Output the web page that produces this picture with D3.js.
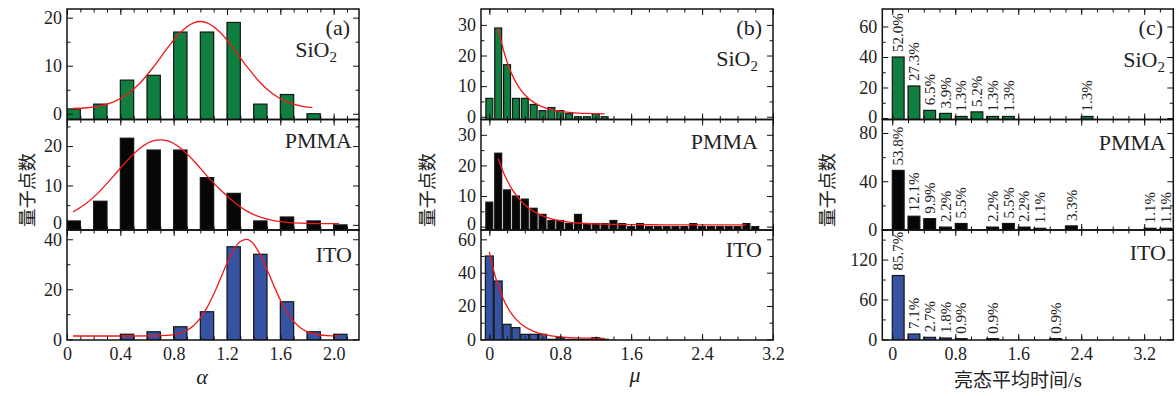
<!DOCTYPE html>
<html><head><meta charset="utf-8">
<script src="https://cdn.jsdelivr.net/npm/d3@7"></script>
<style>body{margin:0;background:#fff} svg{display:block}</style>
</head><body>
<svg id="chart" width="1176" height="396"></svg>
<script>
// ---------------- DATA ----------------
const materials = ["SiO2", "PMMA", "ITO"];

// (a) alpha histograms
const alphaBins = [0, 0.2, 0.4, 0.6, 0.8, 1.0, 1.2, 1.4, 1.6, 1.8, 2.0];
const alphaSiO2 = [1, 2, 7, 8, 17, 17, 19, 2, 4, 0, null];
const alphaPMMA = [1, 6, 22, 19, 19, 12, 8, 1, 2, 1, 0];
const alphaITO  = [null, null, 2, 3, 5, 11, 37, 34, 15, 3, 2];
// (a) fitted curves
const alphaFitSiO2X = [0.045,0.15,0.25,0.35,0.45,0.55,0.65,0.75,0.85,0.95,1.0,1.05,1.15,1.25,1.35,1.45,1.55,1.65,1.75,1.84];
const alphaFitSiO2Y = [1.09,1.25,1.64,2.48,4.01,6.46,9.79,13.55,16.92,18.93,19.2,18.93,16.92,13.55,9.79,6.46,4.01,2.48,1.64,1.27];
const alphaFitPMMAX = [0.045,0.15,0.25,0.35,0.45,0.55,0.65,0.70,0.75,0.85,0.95,1.05,1.15,1.25,1.35,1.45,1.55,1.65,1.75,1.85,1.95,2.04];
const alphaFitPMMAY = [3.27,5.61,8.70,12.44,16.29,19.51,21.36,21.6,21.36,19.51,16.29,12.44,8.9,5.9,3.5,1.95,1.07,0.64,0.44,0.35,0.31,0.30];
const alphaFitITOX = [0.045,0.25,0.45,0.65,0.75,0.80,0.85,0.90,0.95,1.00,1.05,1.10,1.15,1.20,1.25,1.30,1.35,1.40,1.45,1.50,1.55,1.60,1.65,1.70,1.75,1.80,1.85,1.90,1.95,2.04];
const alphaFitITOY = [1.3,1.3,1.3,1.34,1.54,1.85,2.46,3.59,5.50,8.45,12.63,17.98,24.14,30.36,35.68,39.11,39.94,38.02,33.73,27.93,21.62,15.72,10.80,7.13,4.62,3.06,2.17,1.70,1.47,1.33];

// (b) mu histograms
const muBins = [0,0.1,0.2,0.3,0.4,0.5,0.6,0.7,0.8,0.9,1.0,1.1,1.2,1.3,1.4,1.5,1.6,1.7,1.8,1.9,2.0,2.1,2.2,2.3,2.4,2.5,2.6,2.7,2.8,2.9,3.0];
const muSiO2 = [6,29,17,6,6,4,2,3,2,1,0,0,1,0];
const muPMMA = [8,24,12,10,9,6,4,2,2,1,4,1,1,1,2,1,0,1,0,0,0,0,0,1,0,0,0,0,0,1,0];
const muITO  = [50,35,9,7,3,3,3,0,1,0,0,0,1,0];
const muFitSiO2X = [0.10,0.15,0.20,0.25,0.30,0.35,0.40,0.50,0.60,0.70,0.80,0.90,1.00,1.10,1.20,1.30];
const muFitSiO2Y = [29.0,22.78,17.94,14.17,11.24,8.95,7.17,4.70,3.21,2.30,1.75,1.41,1.21,1.09,1.02,0.97];
const muFitPMMAX = [0.10,0.15,0.20,0.25,0.30,0.35,0.40,0.50,0.60,0.70,0.80,0.90,1.00,1.20,1.40,1.60,2.00,2.40,2.90];
const muFitPMMAY = [22.3,18.37,15.15,12.51,10.35,8.58,7.14,4.98,3.54,2.57,1.92,1.49,1.19,0.87,0.72,0.65,0.6,0.6,0.6];
const muFitITOX = [0,0.05,0.10,0.15,0.20,0.25,0.30,0.40,0.50,0.60,0.70,0.80,0.90,1.00,1.10,1.20,1.30];
const muFitITOY = [52.5,41.0,32.0,25.1,19.6,15.4,12.1,7.5,4.8,3.1,2.1,1.45,1.08,0.85,0.71,0.63,0.58];

// (c) bright-state mean time histograms (bin start, count, percentage label)
const timeSiO2 = [0, 0.2, 0.4, 0.6, 0.8, 1.0, 1.2, 1.4, 2.4];
const cntSiO2  = [40, 21, 5, 3, 1, 4, 1, 1, 1];
const pctSiO2  = ["52.0%","27.3%","6.5%","3.9%","1.3%","5.2%","1.3%","1.3%","1.3%"];
const timePMMA = [0, 0.2, 0.4, 0.6, 0.8, 1.2, 1.4, 1.6, 1.8, 2.2, 3.2, 3.4];
const cntPMMA  = [49, 11, 9, 2, 5, 2, 5, 2, 1, 3, 1, 1];
const pctPMMA  = ["53.8%","12.1%","9.9%","2.2%","5.5%","2.2%","5.5%","2.2%","1.1%","3.3%","1.1%","1.1%"];
const timeITO  = [0, 0.2, 0.4, 0.6, 0.8, 1.2, 2.0];
const cntITO   = [96, 8, 3, 2, 1, 1, 1];
const pctITO   = ["85.7%","7.1%","2.7%","1.8%","0.9%","0.9%","0.9%"];

// tick values / labels
const alphaTicks = [0, 0.4, 0.8, 1.2, 1.6, 2.0];
const alphaTickLabels = ["0", "0.4", "0.8", "1.2", "1.6", "2.0"];
const muTicks = [0, 0.8, 1.6, 2.4, 3.2];
const muTickLabels = ["0", "0.8", "1.6", "2.4", "3.2"];
const timeTicks = [0, 0.8, 1.6, 2.4, 3.2];
const timeTickLabels = ["0", "0.8", "1.6", "2.4", "3.2"];

const yTicksA = [[0,10,20],[0,10,20],[0,20,40]];
const yMinorA = [[5,15],[5,15,25],[10,30]];
const yTicksB = [[0,10,20,30],[0,10,20,30],[0,20,40,60]];
const yMinorB = [[5,15,25],[5,15,25],[10,30,50]];
const yTicksC = [[0,20,40,60],[0,40,80],[0,60,120]];
const yMinorC = [[10,30,50],[20,60],[30,90,150]];

// ---------------- LAYOUT / STYLE ----------------
const serif = "'Liberation Serif','Times New Roman',serif";
const cjk = "'Noto Sans CJK SC','Noto Sans CJK JP',sans-serif";
const colors = {SiO2: "#0f7f3f", PMMA: "#060606", ITO: "#3653a3"};
const rowTop = [9, 119.5, 230], rowBot = [119.5, 230, 340];

const panels = [
  { id: "a", xl: 67, xr: 359, xdom: [0, 2.19], xMajor: alphaTicks, xLabels: alphaTickLabels,
    xMinor: d3.range(0, 2.19, 0.1),
    barStart: () => 0, barW: () => 0.1,
    rows: [
      {m: "SiO2", bins: alphaBins, vals: alphaSiO2, ydom: [-1.2, 21.8], yMajor: yTicksA[0], yMinor: yMinorA[0], fx: alphaFitSiO2X, fy: alphaFitSiO2Y, zeroShift: 0},
      {m: "PMMA", bins: alphaBins, vals: alphaPMMA, ydom: [-1.3, 26.75], yMajor: yTicksA[1], yMinor: yMinorA[1], fx: alphaFitPMMAX, fy: alphaFitPMMAY, zeroShift: -2},
      {m: "ITO", bins: alphaBins, vals: alphaITO, ydom: [-0.3, 43.7], yMajor: yTicksA[2], yMinor: yMinorA[2], fx: alphaFitITOX, fy: alphaFitITOY, zeroShift: 0}
    ],
    tag: {x: 350, y: 35}, names: [{x: 337, y: 57}, {x: 352, y: 148}, {x: 352, y: 262}],
    ytitleX: 27.5 },
  { id: "b", xl: 481, xr: 773, xdom: [-0.094, 3.2], xMajor: muTicks, xLabels: muTickLabels,
    xMinor: d3.range(0, 3.21, 0.2),
    barStart: (m) => m === "ITO" ? -0.045 : -0.039, barW: (m) => m === "ITO" ? 0.09 : 0.078,
    rows: [
      {m: "SiO2", bins: muBins, vals: muSiO2, ydom: [-0.9, 35.2], yMajor: yTicksB[0], yMinor: yMinorB[0], fx: muFitSiO2X, fy: muFitSiO2Y, zeroShift: 0},
      {m: "PMMA", bins: muBins, vals: muPMMA, ydom: [-1.1, 35.0], yMajor: yTicksB[1], yMinor: yMinorB[1], fx: muFitPMMAX, fy: muFitPMMAY, zeroShift: -2.5},
      {m: "ITO", bins: muBins, vals: muITO, ydom: [-0.4, 65.6], yMajor: yTicksB[2], yMinor: yMinorB[2], fx: muFitITOX, fy: muFitITOY, zeroShift: 0}
    ],
    tag: {x: 762, y: 35}, names: [{x: 758, y: 66}, {x: 758, y: 149}, {x: 762, y: 257}],
    ytitleX: 428 },
  { id: "c", xl: 882.3, xr: 1173.3, xdom: [-0.127, 3.57], xMajor: timeTicks, xLabels: timeTickLabels,
    xMinor: d3.range(0, 3.57, 0.2),
    barStart: () => 0, barW: () => 0.15,
    rows: [
      {m: "SiO2", bins: timeSiO2, vals: cntSiO2, pct: pctSiO2, ydom: [-1, 71.5], yMajor: yTicksC[0], yMinor: yMinorC[0], zeroShift: -1},
      {m: "PMMA", bins: timePMMA, vals: cntPMMA, pct: pctPMMA, ydom: [-0.4, 91.2], yMajor: yTicksC[1], yMinor: yMinorC[1], zeroShift: 0},
      {m: "ITO", bins: timeITO, vals: cntITO, pct: pctITO, ydom: [-1, 164.5], yMajor: yTicksC[2], yMinor: yMinorC[2], zeroShift: 0}
    ],
    tag: {x: 1163, y: 35}, names: [{x: 1165, y: 67}, {x: 1166, y: 150}, {x: 1166, y: 260}],
    ytitleX: 828 }
];

const svg = d3.select("#chart");
const defs = svg.append("defs");

function styleAxis(g) {
  g.attr("font-family", null).attr("font-size", null);
  g.select(".domain").remove();
  g.selectAll(".tick line").attr("stroke", "#111").attr("stroke-width", 1);
  g.selectAll(".tick text").attr("fill", "#222").attr("font-family", serif).attr("font-size", 18);
}

panels.forEach((P, pi) => {
  const x = d3.scaleLinear().domain(P.xdom).range([P.xl, P.xr]);
  P.rows.forEach((R, ri) => {
    const top = rowTop[ri], bot = rowBot[ri];
    const y = d3.scaleLinear().domain(R.ydom).range([bot, top]);
    const g = svg.append("g");
    const cid = `clip-${P.id}-${ri}`;
    defs.append("clipPath").attr("id", cid).append("rect")
      .attr("x", P.xl).attr("y", top).attr("width", P.xr - P.xl).attr("height", bot - top);
    const plot = g.append("g").attr("clip-path", `url(#${cid})`);

    const data = R.bins.map((b, i) => ({b, v: R.vals[i], p: R.pct ? R.pct[i] : null}))
      .filter(d => d.v !== null && d.v !== undefined);
    const bs = P.barStart(R.m), bw = P.barW(R.m);
    plot.selectAll("rect.bar").data(data).join("rect").attr("class", "bar")
      .attr("x", d => x(d.b + bs))
      .attr("width", d => x(d.b + bs + bw) - x(d.b + bs))
      .attr("y", d => y(d.v))
      .attr("height", d => y(R.ydom[0]) - y(d.v))
      .attr("fill", colors[R.m]).attr("stroke", "#151515").attr("stroke-width", 1.2);

    if (R.fx) {
      const pts = R.fx.map((v, i) => [v, R.fy[i]]);
      plot.append("path").datum(pts)
        .attr("d", d3.line().x(d => x(d[0])).y(d => y(d[1])).curve(d3.curveMonotoneX))
        .attr("fill", "none").attr("stroke", "#f01818").attr("stroke-width", 1.3);
    }

    if (R.pct) {
      g.selectAll("text.pct").data(data).join("text").attr("class", "pct")
        .attr("transform", d => `translate(${x(d.b + bs + bw / 2)},${y(d.v) - 5}) rotate(-90)`)
        .attr("dy", "0.35em").attr("text-anchor", "start")
        .attr("font-family", serif).attr("font-size", 15).attr("fill", "#222")
        .text(d => d.p);
    }

    // y axes (left with labels, right mirrored)
    g.append("g").attr("transform", `translate(${P.xl},0)`)
      .call(d3.axisLeft(y).tickValues(R.yMinor).tickSize(-3.5).tickFormat("")).call(styleAxis);
    const yl = g.append("g").attr("transform", `translate(${P.xl},0)`)
      .call(d3.axisLeft(y).tickValues(R.yMajor).tickSize(-6).tickPadding(5).tickFormat(d3.format("d"))).call(styleAxis);
    yl.selectAll(".tick").filter(d => d === 0).select("text").attr("y", R.zeroShift);
    g.append("g").attr("transform", `translate(${P.xr},0)`)
      .call(d3.axisRight(y).tickValues(R.yMinor).tickSize(-3.5).tickFormat("")).call(styleAxis);
    g.append("g").attr("transform", `translate(${P.xr},0)`)
      .call(d3.axisRight(y).tickValues(R.yMajor).tickSize(-6).tickFormat("")).call(styleAxis);

    // x axes (bottom and top, inward)
    const isBottom = ri === 2;
    g.append("g").attr("transform", `translate(0,${bot})`)
      .call(d3.axisBottom(x).tickValues(P.xMinor).tickSize(-3.5).tickFormat("")).call(styleAxis);
    g.append("g").attr("transform", `translate(0,${bot})`)
      .call(d3.axisBottom(x).tickValues(P.xMajor).tickSize(-6).tickPadding(7)
        .tickFormat((d, i) => isBottom ? P.xLabels[i] : "")).call(styleAxis);
    g.append("g").attr("transform", `translate(0,${top})`)
      .call(d3.axisTop(x).tickValues(P.xMinor).tickSize(-3.5).tickFormat("")).call(styleAxis);
    g.append("g").attr("transform", `translate(0,${top})`)
      .call(d3.axisTop(x).tickValues(P.xMajor).tickSize(-6).tickFormat("")).call(styleAxis);
    g.selectAll(".tick text").filter(function () { return this.textContent === ""; }).remove();

    g.append("rect").attr("x", P.xl).attr("y", top).attr("width", P.xr - P.xl).attr("height", bot - top)
      .attr("fill", "none").attr("stroke", "#111").attr("stroke-width", 1.5);

    // material name
    const nm = P.names[ri];
    const t = g.append("text").attr("x", nm.x).attr("y", nm.y).attr("text-anchor", "end")
      .attr("font-family", serif).attr("font-size", 22).attr("fill", "#222");
    if (R.m === "SiO2") {
      t.append("tspan").text("SiO");
      t.append("tspan").attr("font-size", 15).attr("dy", 5).text("2");
    } else {
      t.text(R.m);
    }
  });

  svg.append("text").attr("x", P.tag.x).attr("y", P.tag.y).attr("text-anchor", "end")
    .attr("font-family", serif).attr("font-size", 22).attr("fill", "#222").text(`(${P.id})`);

  svg.append("text").attr("transform", `translate(${P.ytitleX},190) rotate(-90)`)
    .attr("text-anchor", "middle").attr("dy", "0.35em")
    .attr("font-family", cjk).attr("font-size", 18.5).attr("fill", "#222").text("量子点数");
});

// x-axis titles
svg.append("text").attr("x", 202).attr("y", 384).attr("text-anchor", "middle")
  .attr("font-family", serif).attr("font-style", "italic").attr("font-size", 22).attr("fill", "#222").text("α");
svg.append("text").attr("x", 635).attr("y", 382).attr("text-anchor", "middle")
  .attr("font-family", serif).attr("font-style", "italic").attr("font-size", 22).attr("fill", "#222").text("μ");
const xt = svg.append("text").attr("x", 1018).attr("y", 387).attr("text-anchor", "middle")
  .attr("font-size", 19).attr("fill", "#222");
xt.append("tspan").attr("font-family", cjk).text("亮态平均时间");
xt.append("tspan").attr("font-family", serif).attr("font-size", 21).text("/s");
</script>
</body></html>
